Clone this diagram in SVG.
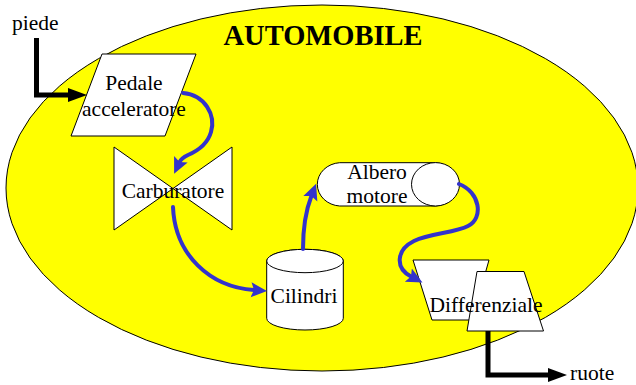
<svg xmlns="http://www.w3.org/2000/svg" width="636" height="385" viewBox="0 0 636 385">
<style>
.shape{fill:#FFFFFF;stroke:#000000;stroke-width:1}
.lbl{font-family:"Liberation Serif","Times New Roman",serif;font-size:21.5px;fill:#000000}
.mid{text-anchor:middle}
.blue{fill:none;stroke:#3333CC;stroke-width:4;stroke-linecap:round}
.black{fill:none;stroke:#000000;stroke-width:5}
</style>
<defs>
<marker id="ab" markerUnits="userSpaceOnUse" markerWidth="20" markerHeight="18" viewBox="0 -9 20 18" refX="3" refY="0" orient="auto">
<path d="M0,-7.5 L16,0 L0,7.5 L3,0 Z" fill="#3333CC"/>
</marker>
<marker id="ak" markerUnits="userSpaceOnUse" markerWidth="22" markerHeight="16" viewBox="0 -8 22 16" refX="1" refY="0" orient="auto">
<path d="M0,-7 L19,0 L0,7 Z" fill="#000000"/>
</marker>
</defs>
<g id="automobile">
<ellipse cx="322" cy="188" rx="316" ry="183" fill="#FFFF00" stroke="#000000" stroke-width="1"/>
<text x="323" y="45" class="mid" style="font-family:'Liberation Serif','Times New Roman',serif;font-size:28.5px;font-weight:bold">AUTOMOBILE</text>
</g>
<g id="pedale">
<polygon class="shape" points="102,54 196,54 165,136 71,136"/>
<text class="lbl mid" x="134" y="90">Pedale</text>
<text class="lbl mid" x="134" y="116">acceleratore</text>
</g>
<g id="carburatore">
<path class="shape" d="M114,147 L232,230 L232,147 L114,230 Z"/>
<text class="lbl mid" x="173" y="198">Carburatore</text>
</g>
<g id="cilindri">
<path class="shape" d="M266.7,261 L266.7,318.3 A38.3,11.7 0 0 0 343.3,318.3 L343.3,261 A38.3,11.7 0 0 0 266.7,261 Z"/>
<ellipse class="shape" cx="305" cy="261" rx="38.3" ry="11.7"/>
<text class="lbl mid" x="304" y="303">Cilindri</text>
</g>
<g id="albero">
<path class="shape" d="M339.7,162.7 L435.5,162.7 A24,21.7 0 0 1 435.5,206 L339.7,206 A24,21.7 0 0 1 339.7,162.7 Z"/>
<ellipse class="shape" cx="435.5" cy="184.3" rx="24" ry="21.7"/>
<text class="lbl mid" x="377" y="179">Albero</text>
<text class="lbl mid" x="377" y="203">motore</text>
</g>
<g id="differenziale">
<polygon class="shape" points="413,260 489,260 472,320 432,320"/>
<polygon class="shape" points="477,271.5 524,271.5 543.5,331 467,331"/>
<text class="lbl mid" x="486" y="312">Differenziale</text>
</g>
<g id="connectors">
<path class="blue" d="M183,93 C205,95 216,115 211,132 C207,146 195,152 188,155 C184,157 181,159 179.6,162" marker-end="url(#ab)"/>
<path class="blue" d="M173,207 C175,255 210,287 254,290" marker-end="url(#ab)"/>
<path class="blue" d="M303,249 C303,228 306,210 311.4,196" marker-end="url(#ab)"/>
<path class="blue" d="M459,184 C480,192 484,218 468,226 C455,233 430,233 414,241 C396,250 395,268 411,276.5" marker-end="url(#ab)"/>
<path class="black" d="M36.5,38 L36.5,95 L69,95" marker-end="url(#ak)"/>
<path class="black" d="M488,331 L488,375 L549,375" marker-end="url(#ak)"/>
</g>
<text class="lbl" x="12" y="30">piede</text>
<text class="lbl" x="570" y="380">ruote</text>
</svg>
